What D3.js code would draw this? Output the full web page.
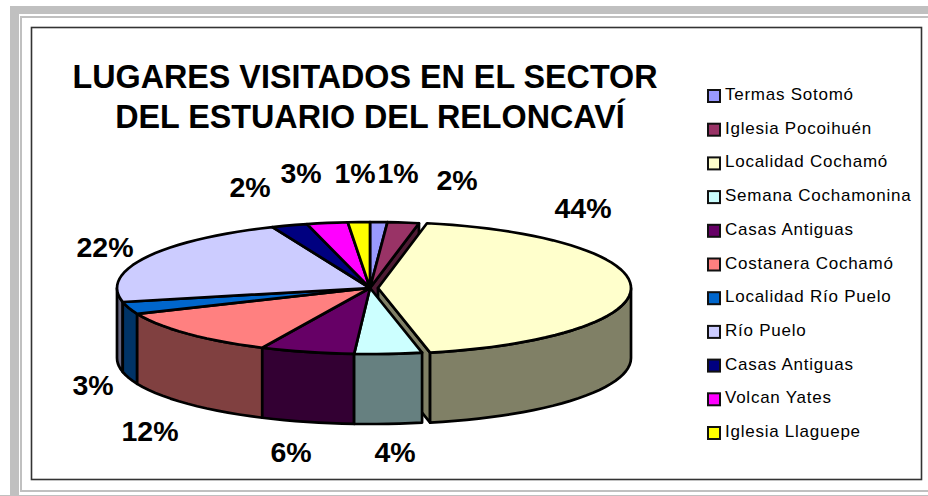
<!DOCTYPE html>
<html><head><meta charset="utf-8">
<script src="https://cdn.jsdelivr.net/npm/d3@7"></script>
<style>html,body{margin:0;padding:0;background:#fff}svg{display:block}</style>
</head><body><svg id="c" width="928" height="496"></svg>
<script>
const titleLines = ["LUGARES VISITADOS EN EL SECTOR", "DEL ESTUARIO DEL RELONCAVÍ"];
const categories = ["Termas Sotomó","Iglesia Pocoihuén","Localidad Cochamó","Semana Cochamonina","Casas Antiguas","Costanera Cochamó","Localidad Río Puelo","Río Puelo","Casas Antiguas","Volcan Yates","Iglesia Llaguepe"];
const values = [1.1,2.0,43.6,4.3,6.0,11.6,3.0,22.1,2.3,2.6,1.4];
const colors = ["#9999FF","#993366","#FFFFCC","#CCFFFF","#660066","#FF8080","#0066CC","#CCCCFF","#000080","#FF00FF","#FFFF00"];

const svg = d3.select("#c");
const G = "#C0C0C0";
// page frame
[[10,6,918,8],[10,6,9,490],[20,16,908,2],[20,16,2,476],[20,490,908,2],[0,495,928,1]].forEach(r =>
  svg.append("rect").attr("x",r[0]).attr("y",r[1]).attr("width",r[2]).attr("height",r[3]).attr("fill",G));
svg.append("rect").attr("x",31.5).attr("y",27.5).attr("width",890).attr("height",452)
  .attr("fill","#fff").attr("stroke","#333").attr("stroke-width",1.6);

// title
svg.append("g").selectAll("text").data(titleLines).join("text")
  .attr("x",(d,i)=>i?370:365).attr("y",(d,i)=>88+i*40).attr("text-anchor","middle")
  .attr("font-family","Liberation Sans").attr("font-weight","bold").attr("font-size",32.3).attr("fill","#000").text(d=>d);

// pie geometry
const cx=370, cy=288, rx=253, ry=66, depth=70, explode=8;
const X=d3.scaleLinear().domain([-1,1]).range([cx-rx,cx+rx]);
const Y=d3.scaleLinear().domain([-1,1]).range([cy-ry,cy+ry]);
const arcs=d3.pie().sort(null).startAngle(0).endAngle(2*Math.PI)(values);
const line=d3.line();
const pt=(a,r,z,dx)=>[X(r*Math.sin(a))+dx, Y(-r*Math.cos(a))+z];
const samples=(a0,a1)=>{const n=Math.max(2,Math.ceil((a1-a0)/(Math.PI/60)));return d3.range(n+1).map(i=>a0+(a1-a0)*i/n);};
const dxOf=i=>i===2?explode:0;
const dark=c=>{const k=d3.rgb(c);return d3.rgb(k.r/2,k.g/2,k.b/2).formatHex();};
const layer=svg.append("g").attr("stroke","#000").attr("stroke-width",2.7).attr("stroke-linejoin","round");
function face(i,a){const dx=dxOf(i);
  layer.append("path").attr("fill",dark(colors[i])).attr("d",line([pt(0,0,0,dx),pt(a,1,0,dx),pt(a,1,depth,dx),pt(0,0,depth,dx)])+"Z");}
function wall(i){const dx=dxOf(i),a0=Math.max(arcs[i].startAngle,Math.PI/2),a1=Math.min(arcs[i].endAngle,3*Math.PI/2);
  if(a1<=a0)return;const s=samples(a0,a1);
  layer.append("path").attr("fill",dark(colors[i])).attr("d",line(s.map(a=>pt(a,1,0,dx)).concat(s.slice().reverse().map(a=>pt(a,1,depth,dx))))+"Z");}
face(1,arcs[1].endAngle);
face(2,arcs[2].endAngle); wall(2);
[7,6,5,4,3].forEach(wall);
arcs.forEach((d,i)=>{const dx=dxOf(i);
  layer.append("path").attr("fill",colors[i]).attr("d",line([pt(0,0,0,dx)].concat(samples(d.startAngle,d.endAngle).map(a=>pt(a,1,0,dx))))+"Z");});

// percentage labels
const labelAt=[[398,173],[457,180],[583,208],[395,452],[291,452],[150,431],[93,385],[105,247],[250,187],[301,173],[355,173]];
svg.append("g").selectAll("text").data(values).join("text")
  .attr("x",(d,i)=>labelAt[i][0]).attr("y",(d,i)=>labelAt[i][1]+10).attr("text-anchor","middle")
  .attr("font-family","Liberation Sans").attr("font-weight","bold").attr("font-size",28.5).attr("fill","#000")
  .text(d=>Math.round(d)+"%");

// legend
const rowY=d3.scalePoint().domain(d3.range(categories.length)).range([94,431]);
const leg=svg.append("g").selectAll("g").data(categories).join("g").attr("transform",(d,i)=>`translate(708,${rowY(i)})`);
leg.append("rect").attr("x",0).attr("y",-4).attr("width",12).attr("height",12).attr("fill",(d,i)=>colors[i]).attr("stroke","#111").attr("stroke-width",2);
leg.append("text").attr("x",17).attr("y",6).attr("font-family","Liberation Sans").attr("font-size",17).attr("letter-spacing",0.75).attr("fill","#000").text(d=>d);
</script></body></html>
